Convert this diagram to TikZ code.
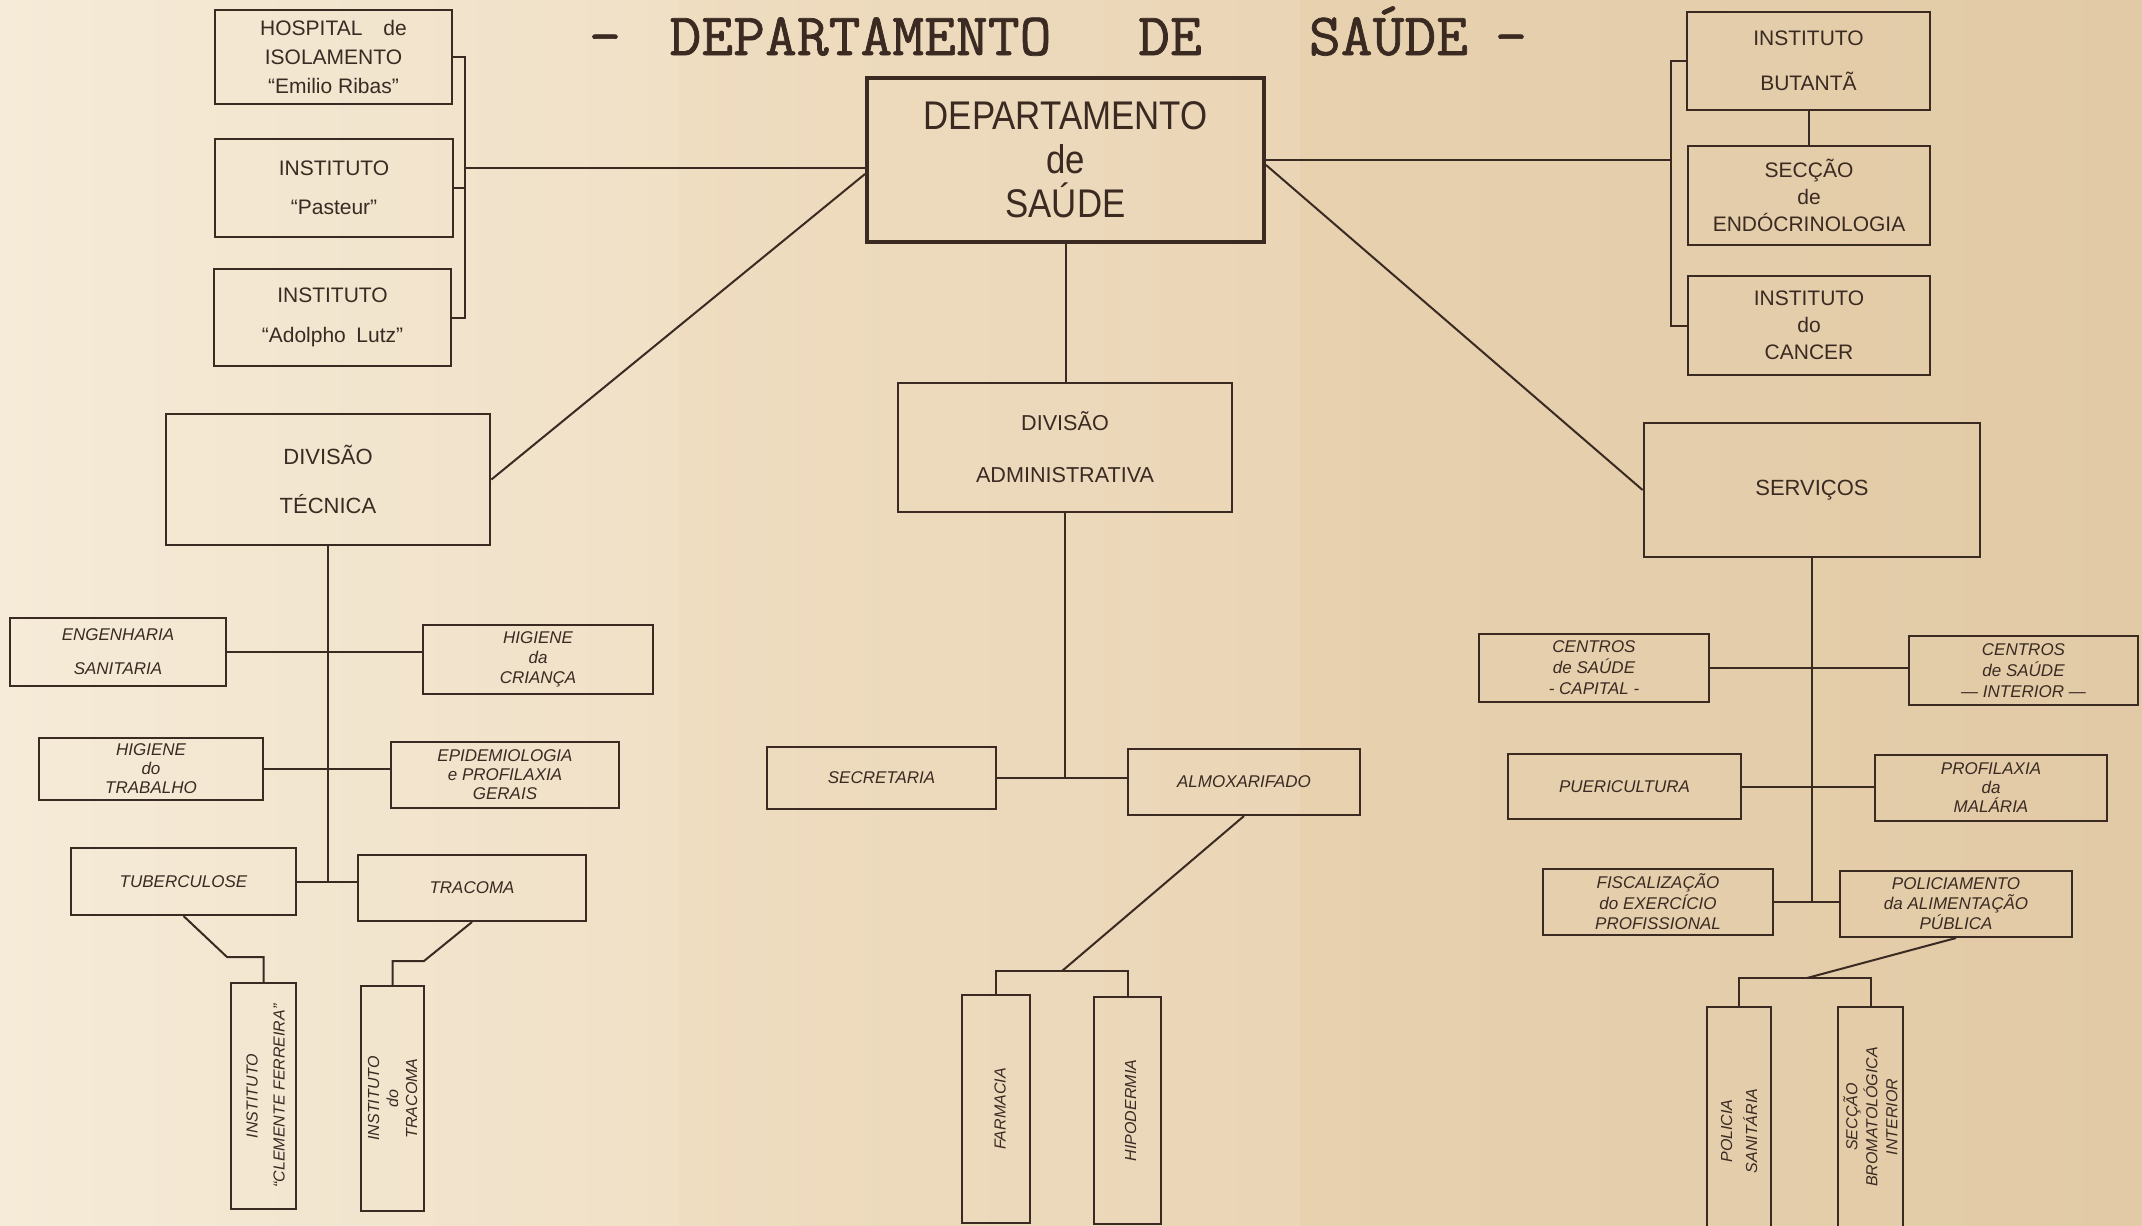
\documentclass[tikz,border=0pt]{standalone}
\usepackage{fontspec}
\setmainfont{Liberation Sans}
\newfontfamily\ttlfont[FakeBold=1.2, FakeStretch=1.03]{Latin Modern Mono}
\newfontfamily\deptfont[FakeStretch=0.87]{Liberation Sans}
\usetikzlibrary{calc}
\definecolor{ink}{HTML}{3A2A22}
\definecolor{paperA}{HTML}{F5EBD8}
\definecolor{paperB}{HTML}{F0E0C6}
\definecolor{paperC}{HTML}{EFDDC1}
\definecolor{paperD}{HTML}{EAD5B6}
\definecolor{paperE}{HTML}{E7D1AF}
\definecolor{paperF}{HTML}{E2CAA6}
\tikzset{
  every node/.style={text=ink},
  ubox/.style={draw=ink, line width=1.1pt, inner sep=0pt, align=center},
  ibox/.style={draw=ink, line width=1pt, inner sep=0pt, align=center},
  vbox/.style={draw=ink, line width=1pt, inner sep=0pt},
  vtext/.style={rotate=90, align=center, inner sep=0pt},
  conn/.style={draw=ink, line width=1pt},
  ttl/.style={font=\ttlfont\fontsize{30}{30}\selectfont, anchor=base, inner sep=0pt},
}
\newcommand\uf[1]{\fontsize{10.5}{#1}\selectfont}
\newcommand\itf[1]{\fontsize{8.5}{#1}\selectfont\itshape}
\newcommand\vf[1]{\fontsize{8}{#1}\selectfont\itshape}
\begin{document}
\begin{tikzpicture}[x=0.5pt,y=-0.5pt]
\useasboundingbox (0,0) rectangle (2142,1226);
% paper
\shade[left color=paperA, right color=paperB] (0,0) rectangle (679,1226);
\shade[left color=paperC, right color=paperD] (679,0) rectangle (1300,1226);
\shade[left color=paperE, right color=paperF] (1300,0) rectangle (2142,1226);

% title
\node[ttl] (t1) at (605,55) {-};
\node[ttl] (t2) at (860.5,55) {DEPARTAMENTO};
\node[ttl] (t3) at (1170,55) {DE};
\node[ttl] (t4) at (1388.5,55) {SAÚDE};
\node[ttl] (t5) at (1511,55) {-};

% top level
\node[draw=ink, line width=2pt, inner sep=0pt, align=center,
      font=\deptfont\fontsize{20}{22}\selectfont,
      minimum width=198.5pt, minimum height=82pt] (dept) at (1065.5,160) {DEPARTAMENTO\\de\\SAÚDE};

% left institutes
\node[ubox, font=\uf{14.5}, minimum width=118.5pt, minimum height=47pt] (hosp) at (333.5,57) {HOSPITAL\quad de\\ISOLAMENTO\\“Emilio Ribas”};
\node[ubox, font=\uf{19.5}, minimum width=119pt, minimum height=49pt] (pasteur) at (334,188) {INSTITUTO\\“Pasteur”};
\node[ubox, font=\uf{20}, minimum width=118.5pt, minimum height=48.5pt] (lutz) at (332.5,317.5) {INSTITUTO\\“Adolpho\enspace Lutz”};

% right institutes
\node[ubox, font=\uf{22.5}, minimum width=121.5pt, minimum height=49pt] (butanta) at (1808.5,61) {INSTITUTO\\BUTANTÃ};
\node[ubox, font=\uf{13.5}, minimum width=121pt, minimum height=49.5pt] (seccao) at (1809,195.5) {SECÇÃO\\de\\ENDÓCRINOLOGIA};
\node[ubox, font=\uf{13.5}, minimum width=121pt, minimum height=49.5pt] (cancer) at (1809,325.5) {INSTITUTO\\do\\CANCER};

% divisions
\node[ubox, line width=1.4pt, font=\fontsize{11}{24.5}\selectfont, minimum width=162pt, minimum height=65.5pt] (divtec) at (328,479.5) {DIVISÃO\\TÉCNICA};
\node[ubox, line width=1.4pt, font=\fontsize{10.8}{26}\selectfont, minimum width=167pt, minimum height=64.5pt] (divadm) at (1065,447.5) {DIVISÃO\\ADMINISTRATIVA};
\node[ubox, line width=1.4pt, font=\fontsize{11}{24}\selectfont, minimum width=168pt, minimum height=67pt] (servicos) at (1812,490) {SERVIÇOS};

% technical division
\node[ibox, font=\itf{17}, minimum width=108pt, minimum height=34pt] (engenharia) at (118,652) {ENGENHARIA\\SANITARIA};
\node[ibox, font=\itf{10}, minimum width=115pt, minimum height=34.5pt] (crianca) at (538,659.5) {HIGIENE\\da\\CRIANÇA};
\node[ibox, font=\itf{9.5}, minimum width=112pt, minimum height=31pt] (trabalho) at (151,769) {HIGIENE\\do\\TRABALHO};
\node[ibox, font=\itf{9.5}, minimum width=114pt, minimum height=33pt] (epidem) at (505,775) {EPIDEMIOLOGIA\\e PROFILAXIA\\GERAIS};
\node[ibox, font=\itf{10}, minimum width=112.5pt, minimum height=33.5pt] (tuberc) at (183.5,881.5) {TUBERCULOSE};
\node[ibox, font=\itf{10}, minimum width=114pt, minimum height=33pt] (tracoma) at (472,888) {TRACOMA};
\node[vbox, minimum width=32.5pt, minimum height=113pt] (clemente) at (263.5,1096) {};
\node[vtext, font=\vf{13.5}] (clementeT) at ([xshift=1pt]clemente.center) {INSTITUTO\\“CLEMENTE FERREIRA”};
\node[vbox, minimum width=31.5pt, minimum height=112.5pt] (insttrac) at (392.5,1098.5) {};
\node[vtext, font=\vf{9.5}] (insttracT) at (insttrac.center) {INSTITUTO\\do\\TRACOMA};

% administrative division
\node[ibox, font=\itf{10}, minimum width=114.5pt, minimum height=31pt] (secretaria) at (881.5,778) {SECRETARIA};
\node[ibox, font=\itf{10}, minimum width=116pt, minimum height=33pt] (almox) at (1244,782) {ALMOXARIFADO};
\node[vbox, minimum width=34pt, minimum height=114pt] (farmacia) at (996,1109) {};
\node[vtext, font=\vf{10}] (farmaciaT) at ([xshift=2pt]farmacia.center) {FARMACIA};
\node[vbox, minimum width=33.5pt, minimum height=113.5pt] (hipoderm) at (1127.5,1110.5) {};
\node[vtext, font=\vf{10}] (hipodermT) at ([xshift=1.5pt]hipoderm.center) {HIPODERMIA};

% services
\node[ibox, font=\itf{10.5}, minimum width=115pt, minimum height=34pt] (capital) at (1594,668) {CENTROS\\de SAÚDE\\- CAPITAL -};
\node[ibox, font=\itf{10.5}, minimum width=114.5pt, minimum height=34.5pt] (interior) at (2023.5,670.5) {CENTROS\\de SAÚDE\\— INTERIOR —};
\node[ibox, font=\itf{10}, minimum width=116.5pt, minimum height=32.5pt] (puericult) at (1624.5,786.5) {PUERICULTURA};
\node[ibox, font=\itf{9.5}, minimum width=116pt, minimum height=33pt] (malaria) at (1991,788) {PROFILAXIA\\da\\MALÁRIA};
\node[ibox, font=\itf{10.25}, minimum width=115pt, minimum height=33pt] (fiscal) at (1658,902) {FISCALIZAÇÃO\\do EXERCÍCIO\\PROFISSIONAL};
\node[ibox, font=\itf{10}, minimum width=116pt, minimum height=33pt] (policiam) at (1956,904) {POLICIAMENTO\\da ALIMENTAÇÃO\\PÚBLICA};
\node[vbox, minimum width=32pt, minimum height=124pt] (policia) at (1739,1131) {};
\node[vtext, font=\vf{12.5}] (policiaT) at (policia.center) {POLICIA\\SANITÁRIA};
\node[vbox, minimum width=32.5pt, minimum height=117pt] (broma) at (1870.5,1124) {};
\node[vtext, font=\vf{10}] (bromaT) at ([yshift=3.5pt]broma.center) {SECÇÃO\\BROMATOLÓGICA\\INTERIOR};

% connectors: top
\coordinate (lbm) at (465,168);
\draw[conn] (hosp.east) -- ++(12,0) |- (lutz.east);
\draw[conn] (pasteur.east) -- (pasteur.east -| lbm);
\draw[conn] (lbm) -- (lbm -| dept.west);
\draw[conn] ([yshift=-7pt]dept.west) -- (divtec.east);
\coordinate (rbm) at (1672,161);
\draw[conn] (butanta.west) -- ++(-15,0) |- (cancer.west);
\draw[conn] (dept.east) -- (dept.east -| rbm);
\draw[conn] (butanta.south) -- (butanta.south |- seccao.north);
\draw[conn] ([yshift=-2.5pt]dept.east) -- (servicos.west);
\draw[conn] (dept.south) -- (dept.south |- divadm.north);

% connectors: technical division
\draw[conn] (divtec.south) -- (divtec.south |- tuberc.east);
\draw[conn] (engenharia.east) -- (engenharia.east -| crianca.west);
\draw[conn] (trabalho.east) -- (trabalho.east -| epidem.west);
\draw[conn] (tuberc.east) -- (tuberc.east -| tracoma.west);
\coordinate (tk) at (227,957);
\draw[conn] (tuberc.south) -- (tk) -| (clemente.north);
\coordinate (rk) at (424,961);
\draw[conn] (tracoma.south) -- (rk) -| (insttrac.north);

% connectors: administrative division
\draw[conn] (divadm.south) -- (divadm.south |- secretaria.east);
\draw[conn] (secretaria.east) -- (secretaria.east -| almox.west);
\coordinate (ak) at (1062,971);
\draw[conn] (almox.south) -- (ak);
\draw[conn] (farmacia.north) |- (ak) -| (hipoderm.north);

% connectors: services
\draw[conn] (servicos.south) -- (servicos.south |- fiscal.east);
\draw[conn] (capital.east) -- (capital.east -| interior.west);
\draw[conn] (puericult.east) -- (puericult.east -| malaria.west);
\draw[conn] (fiscal.east) -- (fiscal.east -| policiam.west);
\coordinate (pk) at (1807,978);
\draw[conn] (policiam.south) -- (pk);
\draw[conn] (policia.north) |- (pk) -| (broma.north);
\end{tikzpicture}
\end{document}
